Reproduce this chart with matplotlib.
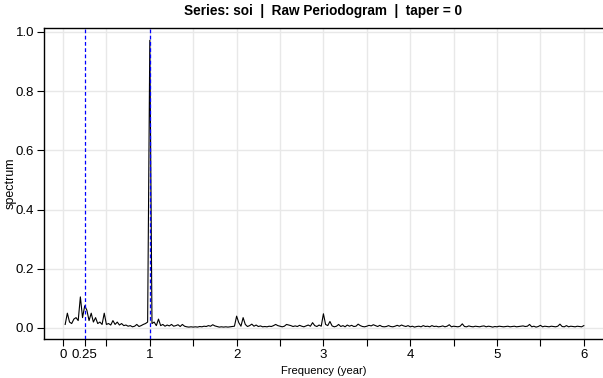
import numpy as np
import matplotlib
matplotlib.use("Agg")
import matplotlib.pyplot as plt

# raw periodogram of soi, frequency step 0.025 cycles/year
spec = [
    0.012, 0.050, 0.020, 0.015, 0.030, 0.035, 0.025, 0.105, 0.035, 0.075,
    0.060, 0.025, 0.050, 0.020, 0.035, 0.015, 0.020, 0.012, 0.050, 0.012,
    0.015, 0.010, 0.025, 0.012, 0.020, 0.010, 0.015, 0.008, 0.010, 0.006,
    0.008, 0.004, 0.006, 0.012, 0.005, 0.008, 0.012, 0.015, 0.020, 0.972,
    0.015, 0.020, 0.008, 0.030, 0.008, 0.012, 0.006, 0.010, 0.007, 0.012,
    0.006, 0.008, 0.011, 0.005, 0.012, 0.006, 0.004, 0.003, 0.004, 0.003,
    0.004, 0.003, 0.005, 0.004, 0.006, 0.005, 0.008, 0.006, 0.011, 0.007,
    0.005, 0.003, 0.004, 0.003, 0.004, 0.003, 0.004, 0.005, 0.006, 0.040,
    0.018, 0.006, 0.035, 0.012, 0.005, 0.008, 0.013, 0.006, 0.010, 0.005,
    0.007, 0.004, 0.005, 0.004, 0.006, 0.005, 0.008, 0.012, 0.008, 0.006,
    0.004, 0.006, 0.012, 0.010, 0.008, 0.005, 0.007, 0.005, 0.009, 0.006,
    0.004, 0.007, 0.010, 0.006, 0.018, 0.008, 0.005, 0.010, 0.006, 0.048,
    0.012, 0.008, 0.022, 0.007, 0.004, 0.006, 0.012, 0.005, 0.008, 0.004,
    0.010, 0.006, 0.009, 0.005, 0.006, 0.013, 0.008, 0.005, 0.004, 0.006,
    0.009, 0.007, 0.011, 0.008, 0.005, 0.009, 0.005, 0.004, 0.005, 0.008,
    0.005, 0.004, 0.006, 0.009, 0.006, 0.010, 0.007, 0.005, 0.008, 0.004,
    0.006, 0.003, 0.005, 0.006, 0.004, 0.008, 0.005, 0.006, 0.004, 0.008,
    0.005, 0.006, 0.004, 0.005, 0.007, 0.004, 0.006, 0.011, 0.004, 0.006,
    0.005, 0.004, 0.006, 0.014, 0.005, 0.004, 0.007, 0.005, 0.004, 0.006,
    0.005, 0.004, 0.006, 0.007, 0.004, 0.006, 0.005, 0.003, 0.005, 0.004,
    0.006, 0.005, 0.004, 0.005, 0.006, 0.004, 0.005, 0.006, 0.004, 0.005,
    0.006, 0.007, 0.005, 0.006, 0.012, 0.004, 0.006, 0.003, 0.005, 0.009,
    0.004, 0.006, 0.005, 0.004, 0.006, 0.005, 0.004, 0.006, 0.013, 0.005,
    0.004, 0.008, 0.004, 0.006, 0.005, 0.004, 0.006, 0.005, 0.004, 0.008,
]
freq = np.arange(1, len(spec) + 1) * 0.025

xticks = [0, 0.25, 0.5, 1, 1.5, 2, 2.5, 3, 3.5, 4, 4.5, 5, 5.5, 6]
xlabels = ["0", "0.25", "", "1", "", "2", "", "3", "", "4", "", "5", "", "6"]
yticks = [0.0, 0.2, 0.4, 0.6, 0.8, 1.0]
marks = [0.25, 1]

plt.rcParams["font.family"] = ["Liberation Sans", "DejaVu Sans"]

fig = plt.figure(figsize=(6.03, 3.78), dpi=100)
ax = fig.add_axes([44 / 603, 1 - 339 / 378, 559 / 603, 311 / 378])

# grid
for g in np.arange(0, 6.01, 0.5):
    ax.axvline(g, color="#e8e8e8", lw=1, zorder=0)
for g in yticks:
    ax.axhline(g, color="#e8e8e8", lw=1, zorder=0)

ax.plot(freq, spec, color="black", lw=0.8, zorder=3)
for m in marks:
    ax.axvline(m, color="blue", ls=(0, (3, 2)), lw=0.9, zorder=4)

ax.set_xlim(-0.219, 6.221)
ax.set_ylim(-0.0372, 1.0135)
ax.set_xticks(xticks)
ax.set_xticklabels(xlabels)
ax.set_yticks(yticks)
ax.set_yticklabels(["%.1f" % v for v in yticks])
ax.tick_params(direction="out", length=5, width=0.8, labelsize=9.5, colors="black", pad=2)

ax.spines["right"].set_visible(False)
for s in ["left", "top", "bottom"]:
    ax.spines[s].set_linewidth(1)

ax.set_xlabel("Frequency (year)", fontsize=8, labelpad=4)
ax.set_ylabel("spectrum", fontsize=9)
ax.yaxis.set_label_coords(-0.0483, 0.5016)
ax.set_title("Series: soi  |  Raw Periodogram  |  taper = 0", fontsize=9.8,
             fontweight="bold", pad=9)

fig.savefig("out.png", dpi=100)
